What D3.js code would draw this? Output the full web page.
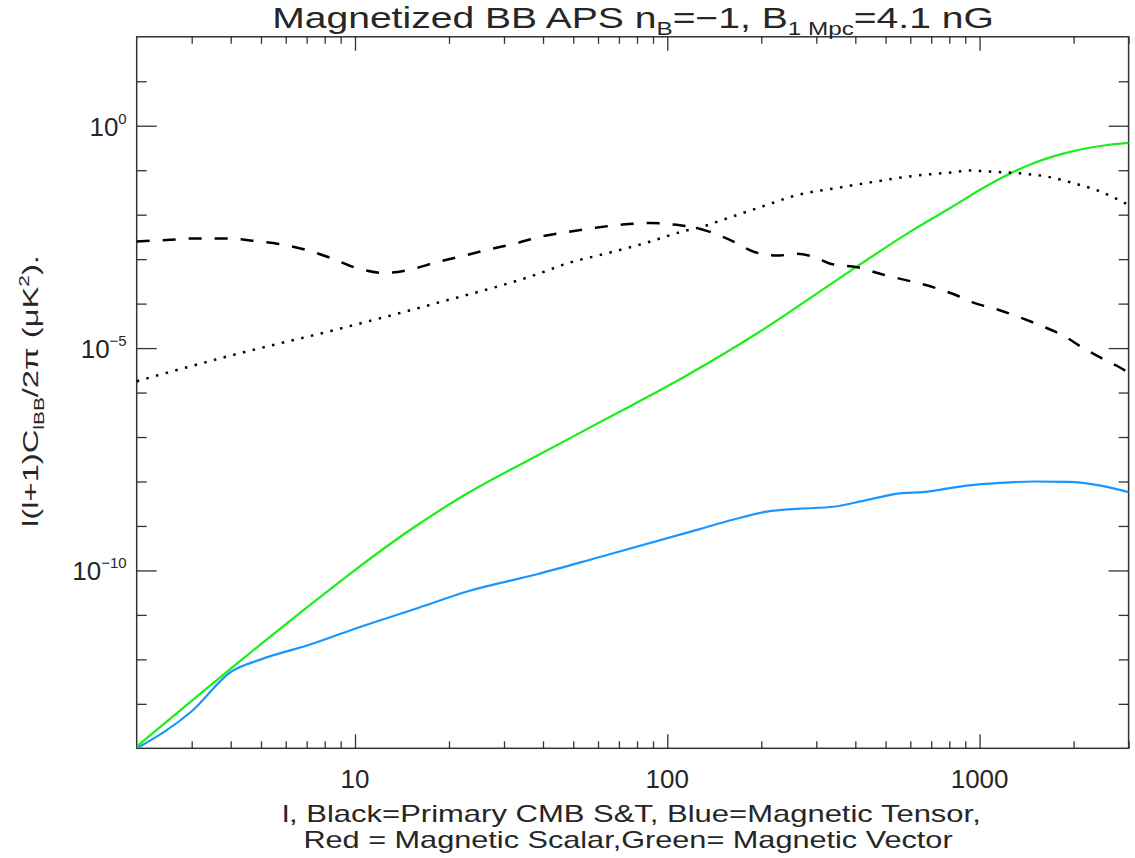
<!DOCTYPE html>
<html>
<head>
<meta charset="utf-8">
<script src="https://cdn.jsdelivr.net/npm/d3@7"></script>
<style>
  body { margin: 0; background: #fff; }
  text { font-family: "Liberation Sans", Arial, sans-serif; fill: #262626; }
</style>
</head>
<body>
<div id="chart"></div>
<script>
// multipole values and l(l+1)C_l/2pi, one pair of arrays per curve
const ellDashed = [2, 2.5, 3, 4, 4.7, 5.7, 7, 8.4, 10, 12.4, 15, 18, 22, 27, 33, 40, 48, 59, 72, 88, 107, 130, 158, 190, 225, 260, 295, 335, 405, 490, 600, 730, 850, 950, 1160, 1380, 1590, 1880, 2100, 2450, 2750, 3000];
const valDashed = [2.5e-3, 2.7e-3, 2.9e-3, 2.9e-3, 2.6e-3, 2.2e-3, 1.6e-3, 1.05e-3, 6.5e-4, 4.9e-4, 5.8e-4, 8.3e-4, 1.17e-3, 1.66e-3, 2.3e-3, 3.3e-3, 4.1e-3, 5.1e-3, 6.0e-3, 6.5e-3, 5.9e-3, 4.6e-3, 2.75e-3, 1.45e-3, 1.2e-3, 1.32e-3, 1.12e-3, 7.8e-4, 6.6e-4, 4.5e-4, 3.2e-4, 2.2e-4, 1.5e-4, 1.07e-4, 7.1e-5, 4.6e-5, 3.1e-5, 1.8e-5, 1.1e-5, 6.0e-6, 4.0e-6, 2.8e-6];

const ellDotted = [2, 4.1, 8.7, 18, 38, 48, 64, 85, 112, 130, 150, 200, 260, 350, 460, 610, 810, 935, 1080, 1350, 1640, 2000, 2360, 3000];
const valDotted = [1.8e-6, 7.1e-6, 2.6e-5, 1.0e-4, 4.5e-4, 8.1e-4, 1.35e-3, 2.3e-3, 4.2e-3, 5.4e-3, 7.6e-3, 1.5e-2, 2.75e-2, 4.0e-2, 5.5e-2, 7.4e-2, 8.9e-2, 9.8e-2, 9.3e-2, 8.5e-2, 7.2e-2, 5.1e-2, 3.6e-2, 1.66e-2];

const ellVector = [2, 3, 4, 5, 7, 10, 15, 23, 38, 64, 112, 197, 347, 611, 810, 1070, 1420, 1890, 2500, 3000];
const valVector = [1.1e-14, 1.17e-13, 6.2e-13, 2.2e-12, 1.45e-11, 1.02e-10, 8.1e-10, 5.5e-9, 3.7e-8, 2.6e-7, 2.15e-6, 2.3e-5, 3.3e-4, 4.5e-3, 1.45e-2, 4.7e-2, 0.126, 0.245, 0.36, 0.41];

const ellTensor = [2, 3, 4, 5, 7.1, 10, 16, 23, 38, 60, 127, 162, 208, 266, 340, 434, 555, 660, 910, 1160, 1490, 1910, 2440, 3000];
const valTensor = [1.0e-14, 6.8e-14, 5.2e-13, 1.0e-12, 2.1e-12, 4.9e-12, 1.45e-11, 3.4e-11, 8.1e-11, 1.95e-10, 8.5e-10, 1.38e-9, 2.1e-9, 2.45e-9, 2.7e-9, 3.8e-9, 5.4e-9, 5.75e-9, 8.1e-9, 9.3e-9, 1.0e-8, 9.8e-9, 8.1e-9, 5.75e-9];

// axis ticks
const xMajor = [10, 100, 1000];
const xMinor = [3, 4, 5, 6, 7, 8, 9, 20, 30, 40, 50, 60, 70, 80, 90, 200, 300, 400, 500, 600, 700, 800, 900, 2000, 3000];
const yMajorExp = [0, -5, -10];
const yMinorExp = [1, -1, -2, -3, -4, -6, -7, -8, -9, -11, -12, -13];

const svgWidth = 1135, svgHeight = 858;
const margin = {top: 36.8, left: 136.7, right: 6.4, bottom: 109.7};
const width = svgWidth - margin.left - margin.right;
const height = svgHeight - margin.top - margin.bottom;

const svg = d3.select("#chart").append("svg")
  .attr("width", svgWidth)
  .attr("height", svgHeight);

const g = svg.append("g")
  .attr("transform", "translate(" + margin.left + "," + margin.top + ")");

const x = d3.scaleLog().domain([2, 3000]).range([0, width]);
const y = d3.scaleLog().domain([1e-14, 1e2]).range([height, 0]);

g.append("clipPath").attr("id", "clip")
  .append("rect").attr("width", width).attr("height", height);

// ticks pointing inward on all four sides
function drawAxis(axis, tr) {
  const a = g.append("g").attr("transform", tr).call(axis);
  a.select(".domain").remove();
  a.selectAll("line").attr("stroke", "#333").attr("stroke-width", 1.3);
  a.selectAll("text").remove();
}
drawAxis(d3.axisBottom(x).tickValues(xMajor).tickSize(-14), "translate(0," + height + ")");
drawAxis(d3.axisBottom(x).tickValues(xMinor).tickSize(-7), "translate(0," + height + ")");
drawAxis(d3.axisTop(x).tickValues(xMajor).tickSize(-14), "translate(0,0)");
drawAxis(d3.axisTop(x).tickValues(xMinor).tickSize(-7), "translate(0,0)");
const yMajor = yMajorExp.map(e => Math.pow(10, e));
const yMinor = yMinorExp.map(e => Math.pow(10, e));
drawAxis(d3.axisLeft(y).tickValues(yMajor).tickSize(-20), "translate(0,0)");
drawAxis(d3.axisLeft(y).tickValues(yMinor).tickSize(-10), "translate(0,0)");
drawAxis(d3.axisRight(y).tickValues(yMajor).tickSize(-20), "translate(" + width + ",0)");
drawAxis(d3.axisRight(y).tickValues(yMinor).tickSize(-10), "translate(" + width + ",0)");

g.append("rect")
  .attr("width", width).attr("height", height)
  .attr("fill", "none").attr("stroke", "#333").attr("stroke-width", 1.5);

// tick labels
g.selectAll(".xlab").data(xMajor).enter().append("text")
  .attr("x", d => x(d)).attr("y", height + 40)
  .attr("text-anchor", "middle")
  .style("font-size", "26px")
  .text(d => d);

const ylab = g.selectAll(".ylab").data(yMajorExp).enter().append("text")
  .attr("x", -10).attr("y", d => y(Math.pow(10, d)) + 10)
  .attr("text-anchor", "end")
  .style("font-size", "26px");
ylab.append("tspan").text("10");
ylab.append("tspan").attr("dy", -12).style("font-size", "15px")
  .text(d => d === 0 ? "0" : "\u2212" + Math.abs(d));

// curves
const line = d3.line()
  .x(d => x(d[0]))
  .y(d => y(d[1]))
  .curve(d3.curveMonotoneX);

const curves = g.append("g").attr("clip-path", "url(#clip)");
const zip = (a, b) => a.map((v, i) => [v, b[i]]);

curves.append("path").datum(zip(ellTensor, valTensor))
  .attr("d", line).attr("fill", "none")
  .attr("stroke", "#1a96ff").attr("stroke-width", 2.2);

curves.append("path").datum(zip(ellVector, valVector))
  .attr("d", line).attr("fill", "none")
  .attr("stroke", "#19ef19").attr("stroke-width", 2.2);

curves.append("path").datum(zip(ellDashed, valDashed))
  .attr("d", line).attr("fill", "none")
  .attr("stroke", "#000").attr("stroke-width", 2.5)
  .attr("stroke-dasharray", "13,13");

curves.append("path").datum(zip(ellDotted, valDotted))
  .attr("d", line).attr("fill", "none")
  .attr("stroke", "#000").attr("stroke-width", 2.5)
  .attr("stroke-dasharray", "2.5,7.5");

// stretch a text horizontally so it spans the same width as in the original plot
function fit(sel, target, tr) {
  const w = sel.node().getBBox().width;
  sel.attr("transform", tr + " scale(" + (target / w) + ",1)");
}

// title and axis titles
const title = svg.append("text")
  .attr("text-anchor", "middle")
  .style("font-size", "29px");
title.append("tspan").text("Magnetized BB APS n");
title.append("tspan").attr("dy", 7).style("font-size", "18px").text("B");
title.append("tspan").attr("dy", -7).text("=\u22121, B");
title.append("tspan").attr("dy", 7).style("font-size", "18px").text("1 Mpc");
title.append("tspan").attr("dy", -7).text("=4.1 nG");
fit(title, 722, "translate(633,28)");

const xt1 = svg.append("text")
  .attr("text-anchor", "middle")
  .style("font-size", "23px")
  .text("l, Black=Primary CMB S&T, Blue=Magnetic Tensor,");
fit(xt1, 699, "translate(631.5,822)");
const xt2 = svg.append("text")
  .attr("text-anchor", "middle")
  .style("font-size", "23px")
  .text("Red = Magnetic Scalar,Green= Magnetic Vector");
fit(xt2, 650, "translate(628,848)");

const ytitle = svg.append("text")
  .attr("text-anchor", "middle")
  .style("font-size", "22px");
ytitle.append("tspan").text("l(l+1)C");
ytitle.append("tspan").attr("dy", 6).style("font-size", "14px").text("lBB");
ytitle.append("tspan").attr("dy", -6).text("/2\u03c0  (\u03bcK");
ytitle.append("tspan").attr("dy", -9).style("font-size", "14px").text("2");
ytitle.append("tspan").attr("dy", 9).text(").");
fit(ytitle, 272, "translate(38,391) rotate(-90)");
</script>
</body>
</html>
